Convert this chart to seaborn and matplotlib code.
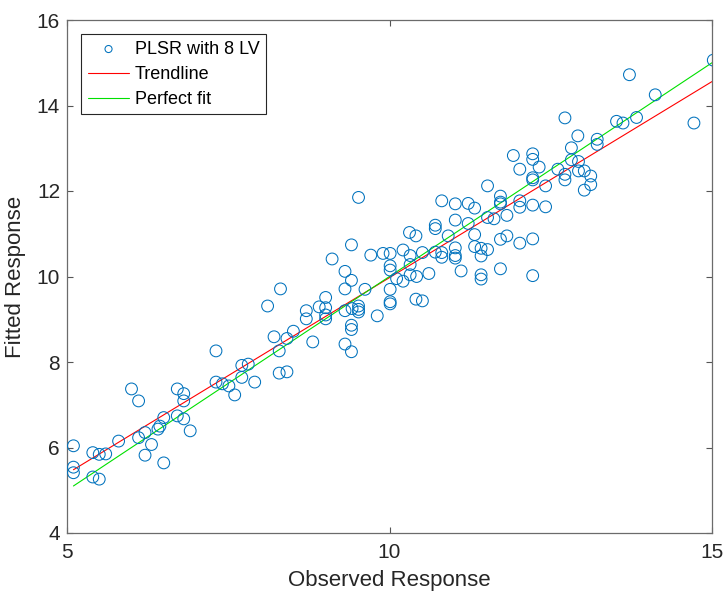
import matplotlib
matplotlib.use("Agg")
import matplotlib.pyplot as plt
import seaborn as sns
import pandas as pd

observed = [
    5.10, 5.10, 5.10, 5.40, 5.40, 5.50, 5.50, 5.60, 5.80, 6.00, 6.11, 6.11, 6.21, 6.21,
    6.31, 6.41, 6.44, 6.50, 6.50, 6.71, 6.71, 6.81, 6.81, 6.81, 6.91, 7.31, 7.31, 7.41,
    7.51, 7.60, 7.71, 7.71, 7.81, 7.91, 8.21, 8.29, 8.29,
    10.31, 10.41, 10.71, 10.71, 10.91, 9.41, 9.11, 9.71, 9.90, 10.01, 10.21, 10.32, 10.51,
    10.71, 10.81, 10.81, 9.31, 9.41, 9.31, 9.62, 10.01, 10.01, 10.11, 10.21, 10.32, 10.32,
    10.42, 10.61, 10.01, 10.01, 10.01, 10.41, 10.51, 8.31, 8.11, 9.01, 8.91, 9.01, 8.71,
    8.71, 9.01, 9.01, 9.31, 9.42, 9.52, 9.52, 9.52, 9.81, 8.51, 8.41, 8.81, 9.31, 9.41,
    9.41, 9.41, 8.41,
    12.72, 12.92, 13.22, 13.22, 12.82, 12.82, 12.93, 12.61, 12.72, 12.72, 12.93, 13.02,
    13.12, 13.12, 13.02, 11.92, 12.22, 12.22, 12.32, 12.02, 12.22, 12.22, 12.42, 11.52,
    11.72, 11.72, 11.72, 12.02, 12.02, 12.22, 12.42, 10.81, 11.02, 11.22, 11.32, 11.52,
    11.62, 11.82, 11.02, 11.22, 11.32, 11.72, 11.82, 12.02, 12.22, 11.02, 11.02, 11.02,
    11.32, 11.42, 11.52, 11.42, 11.11, 11.42, 11.42, 11.72, 12.22,
    15.02, 13.72, 14.12, 13.83, 13.52, 13.62, 14.72, 9.52,
]
fitted = [
    6.04, 5.54, 5.41, 5.88, 5.31, 5.26, 5.84, 5.85, 6.15, 7.37, 7.09, 6.23, 5.82, 6.35,
    6.07, 6.43, 6.50, 6.70, 5.64, 7.37, 6.74, 7.26, 7.09, 6.67, 6.39, 8.26, 7.53, 7.49,
    7.44, 7.23, 7.92, 7.64, 7.95, 7.53, 8.59, 8.26, 7.74,
    11.03, 10.95, 11.20, 11.12, 10.95, 10.74, 10.41, 10.50, 10.54, 10.54, 10.62, 10.49, 10.56,
    10.57, 10.56, 10.45, 10.12, 9.91, 9.71, 9.70, 10.25, 10.15, 9.95, 9.89, 10.28, 10.04,
    10.00, 10.07, 9.70, 9.41, 9.36, 9.47, 9.43, 9.71, 9.31, 9.51, 9.29, 9.27, 9.20,
    9.01, 9.10, 9.01, 9.20, 9.25, 9.31, 9.23, 9.17, 9.08, 8.72, 8.55, 8.47, 8.42, 8.86,
    8.76, 8.24, 7.77,
    13.71, 13.29, 13.21, 13.09, 13.01, 12.73, 12.69, 12.51, 12.39, 12.26, 12.47, 12.47,
    12.35, 12.15, 12.02, 12.83, 12.87, 12.74, 12.56, 12.51, 12.31, 12.26, 12.12, 12.12,
    11.88, 11.74, 11.70, 11.77, 11.62, 11.67, 11.63, 11.77, 11.70, 11.71, 11.60, 11.38,
    11.35, 11.43, 11.32, 11.24, 10.98, 10.87, 10.95, 10.78, 10.88, 10.67, 10.49, 10.43,
    10.70, 10.66, 10.63, 10.48, 10.13, 10.04, 9.94, 10.18, 10.02,
    15.06, 14.72, 14.25, 13.72, 13.63, 13.59, 13.59, 11.85,
]

trend_x = [5.1, 15.0]
trend_y = [5.48, 14.56]
perfect_x = [5.1, 15.0]
perfect_y = [5.1, 15.0]

x_ticks = [5, 10, 15]
y_ticks = [4, 6, 8, 10, 12, 14, 16]

df = pd.DataFrame({"Observed Response": observed, "Fitted Response": fitted})

sns.set_style("white")
plt.rcParams["font.family"] = ["Liberation Sans", "DejaVu Sans"]

fig = plt.figure(figsize=(7.27, 5.95), dpi=100)
ax = fig.add_axes([67 / 727, 1 - 533 / 595, 645 / 727, 513 / 595])

text_c = "#262626"
sns.scatterplot(data=df, x="Observed Response", y="Fitted Response", ax=ax,
                marker="o", s=72, facecolors="none", edgecolors="#0072BD",
                linewidth=0.75, label="PLSR with 8 LV", zorder=3)
sns.lineplot(x=trend_x, y=trend_y, ax=ax, color="#FF0000", linewidth=0.8,
             label="Trendline", zorder=2)
sns.lineplot(x=perfect_x, y=perfect_y, ax=ax, color="#00E000", linewidth=0.8,
             label="Perfect fit", zorder=2)

ax.set_xlim(5, 15)
ax.set_ylim(4, 16)
ax.set_xticks(x_ticks)
ax.set_yticks(y_ticks)
ax.tick_params(direction="in", length=4, width=0.8, colors="#555555",
               labelcolor=text_c, labelsize=15, top=True, right=True,
               bottom=True, left=True)
ax.tick_params(axis="x", pad=7)
ax.tick_params(axis="y", pad=5)
for sp in ax.spines.values():
    sp.set_color("#6b6b6b")
    sp.set_linewidth(0.9)
    sp.set_visible(True)
ax.set_xlabel("Observed Response", fontsize=16, color=text_c, labelpad=6)
ax.set_ylabel("Fitted Response", fontsize=16, color=text_c, labelpad=8)
ax.grid(False)

leg = ax.legend(loc="upper left", fontsize=13, frameon=True, fancybox=False,
                framealpha=1, edgecolor="#262626", markerscale=0.6,
                handlelength=2.3, handletextpad=0.3, borderpad=0.35,
                labelspacing=0.45, borderaxespad=0.8)
leg.get_frame().set_linewidth(0.8)
for t in leg.get_texts():
    t.set_color("black")

fig.savefig("out.png", dpi=100)
